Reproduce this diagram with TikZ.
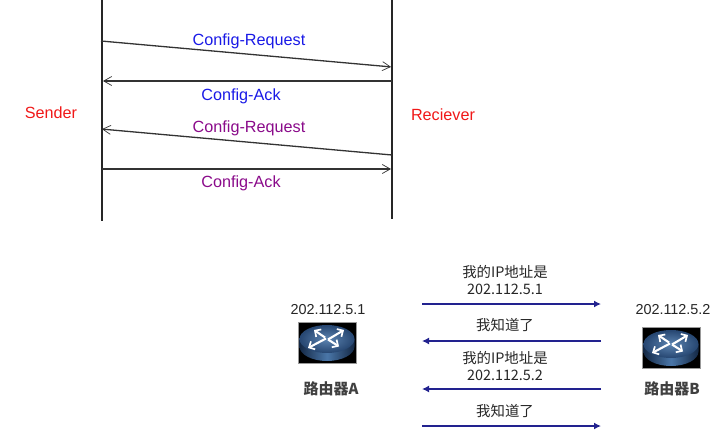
\documentclass[tikz,border=0pt]{standalone}
\usepackage{fontspec}
\setmainfont{Liberation Sans}
\newfontfamily\cjkfont{Noto Sans CJK SC}
\usetikzlibrary{arrows.meta}
\definecolor{pktblue}{HTML}{1A1AE6}
\definecolor{pktpurple}{HTML}{8A0A8A}
\definecolor{pktred}{HTML}{F01818}
\definecolor{linkblue}{HTML}{22228F}
\definecolor{discA}{HTML}{4A76A8}
\definecolor{discB}{HTML}{1D3A63}
\tikzset{
 x=1pt,y=-1pt,
 lifeline/.style={draw=black!85,line width=1.3pt},
 msg/.style={draw=black!80,line width=1.3pt,-{Straight Barb[length=8pt,width=9pt,line width=.7pt]},shorten >=1pt},
 lbl/.style={font=\fontsize{16.2}{16.2}\selectfont,inner sep=0pt,anchor=center},
 side/.style={lbl,text=pktred},
 cjk/.style={font=\fontsize{14.4}{17.5}\selectfont\cjkfont,inner sep=0pt,align=center,text=black!85},
 cjkname/.style={font=\fontsize{15}{17.5}\selectfont\cjkfont\bfseries,inner sep=0pt,align=center,text=black!75},
 ip/.style={font=\fontsize{14.4}{17.5}\selectfont,inner sep=0pt,text=black!85},
 link/.style={draw=linkblue,line width=1.4pt,-{Latex[length=7pt,width=7pt]}},
 routerbox/.style={minimum width=58pt,minimum height=41pt,inner sep=0pt,fill=black,draw=black!40,line width=.8pt},
 rarrow/.style={draw=white,line width=2.1pt,-{Straight Barb[length=4.5pt,width=9pt,line width=1.7pt]}},
 pics/routericon/.style={code={
  \shade[left color=discB!70!black,right color=discB!70!black,middle color=discA] (-27.5,-3.5) -- (-27.5,4) arc[start angle=180,end angle=0,x radius=27.5,y radius=14.5] -- (27.5,-3.5) -- cycle;
  \shade[inner color=discA!90!white,outer color=discB!80!discA] (0,-3.5) ellipse[x radius=27.5,y radius=14];
  \draw[rarrow] (-1,-4) -- (-19,5.5);
  \draw[rarrow] (1,-3) -- (17,-12.5);
  \draw[rarrow] (-2,-5) -- (-13,-12.5);
  \draw[rarrow] (1,-3) -- (12,4);
 }}
}
\begin{document}
\begin{tikzpicture}
\useasboundingbox (0,0) rectangle (728,439);
% top sequence
\coordinate (stop) at (102,0); \coordinate (sbot) at (102,221);
\coordinate (rtop) at (392,0); \coordinate (rbot) at (392,219);
\draw[lifeline] (stop) -- (sbot);
\draw[lifeline] (rtop) -- (rbot);
\coordinate (m1a) at (101,41); \coordinate (m1b) at (392,67);
\coordinate (m2a) at (392,81); \coordinate (m2b) at (102,81);
\coordinate (m3a) at (392,155); \coordinate (m3b) at (101,129);
\coordinate (m4a) at (102,169); \coordinate (m4b) at (392,169);
\draw[msg] (m1a) -- (m1b);
\draw[msg] (m2a) -- (m2b);
\draw[msg] (m3a) -- (m3b);
\draw[msg] (m4a) -- (m4b);
\node[lbl,text=pktblue] (t1) at (249,41) {Config-Request};
\node[lbl,text=pktblue] (t2) at (241,96) {Config-Ack};
\node[lbl,text=pktpurple] (t3) at (249,128) {Config-Request};
\node[lbl,text=pktpurple] (t4) at (241,183) {Config-Ack};
\node[side] (sender) at (51,112.5) {Sender};
\node[side] (recv) at (443,115) {Reciever};
% bottom exchange
\coordinate (l1a) at (422,304); \coordinate (l1b) at (601,304);
\coordinate (l2a) at (601,341); \coordinate (l2b) at (422,341);
\coordinate (l3a) at (601,389); \coordinate (l3b) at (422,389);
\coordinate (l4a) at (422,426); \coordinate (l4b) at (601,426);
\draw[link] (l1a) -- (l1b);
\draw[link] (l2a) -- (l2b);
\draw[link] (l3a) -- (l3b);
\draw[link] (l4a) -- (l4b);
\node[cjk] (c1) at (505,280) {我的IP地址是\\202.112.5.1};
\node[cjk] (c2) at (505,325) {我知道了};
\node[cjk] (c3) at (505,366) {我的IP地址是\\202.112.5.2};
\node[cjk] (c4) at (505,411) {我知道了};
\node[ip] (ipa) at (328,310) {202.112.5.1};
\node[ip] (ipb) at (673,310) {202.112.5.2};
\node[routerbox] (ra) at (327,342.5) {};
\pic at (ra.center) {routericon};
\node[routerbox] (rb) at (671,347.5) {};
\pic at (rb.center) {routericon};
\node[cjkname] (na) at (331,389) {路由器A};
\node[cjkname] (nb) at (672,389) {路由器B};
\end{tikzpicture}
\end{document}
